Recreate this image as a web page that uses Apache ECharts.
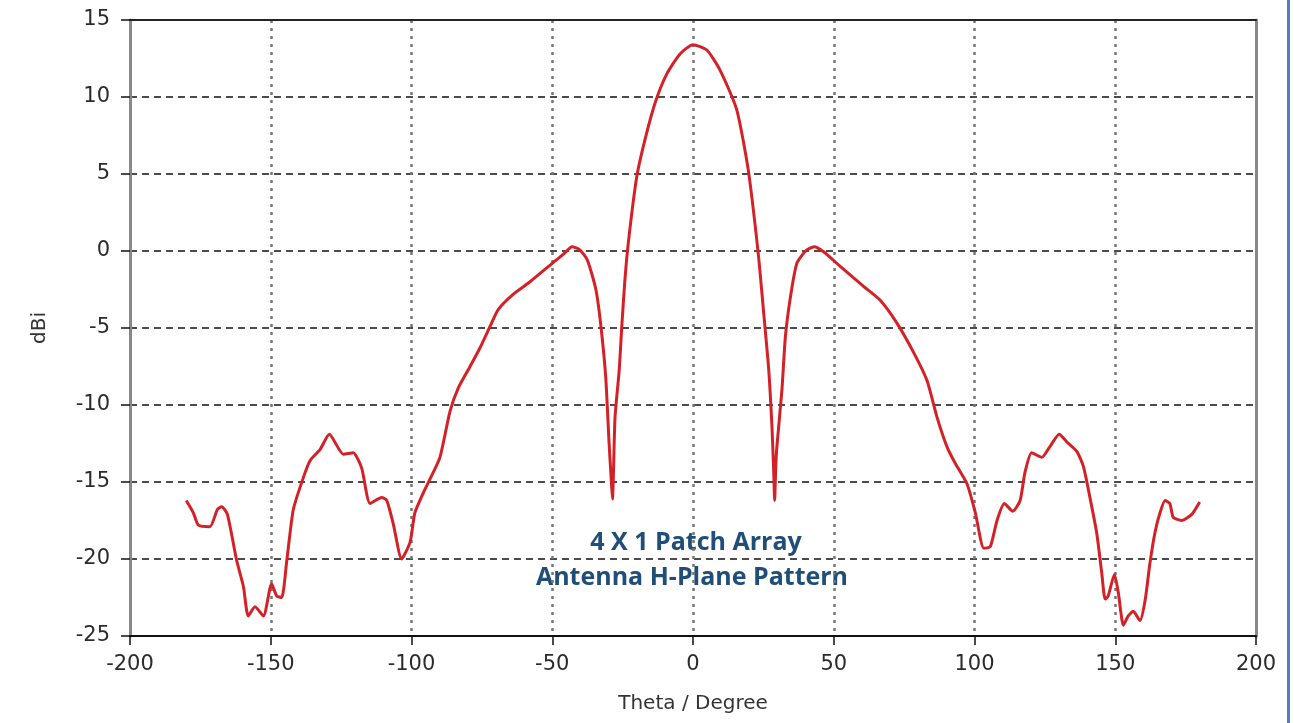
<!DOCTYPE html>
<html lang="en">
<head>
    <meta charset="UTF-8">
    <title>H-Plane Pattern</title>
    <script type="text/javascript" src="https://cdn.jsdelivr.net/npm/echarts@6/dist/echarts.min.js"></script>
    <style>
        html, body { margin: 0; padding: 0; background: #fff; }
        #chart { width: 1294px; height: 723px; }
    </style>
</head>
<body>
<div id="chart"></div>
<script type="text/javascript">
    // angle (deg) and gain (dBi)
    var theta = [
        -180, -177.5, -175.7, -171.6, -169, -167.4, -165.4, -162.1, -159.7, -158,
        -155.6, -152.6, -149.7, -147.9, -146.1, -144.3, -142, -138.4, -136, -132.5,
        -129.2, -124.2, -120.7, -117.7, -114.7, -110.6, -108.8, -106.5, -103.5, -100.5,
        -98.8, -95.8, -93.4, -89.9, -86.3, -83.4, -79.2, -75.7, -72.1, -69.2,
        -63.8, -57.9, -50, -46, -43, -40.1, -37.5, -34.5, -32.7, -31,
        -29.8, -29, -28.6, -28.2, -27.7, -26.2, -25.3, -24.2, -23, -20,
        -17.1, -13.5, -9.3, -4.6, 0, 4.9, 9.6, 15.5, 19.6, 23.2,
        25.1, 26.9, 28.1, 28.7, 29.0, 29.4, 29.8, 31.6, 32.8, 34.6,
        36.9, 40, 43, 46.4, 52.3, 60.6, 66.5, 72.5, 78.4, 83.1,
        86.7, 90.2, 93.2, 97.3, 100.3, 103.3, 105.6, 108, 110.6, 113.6,
        116.2, 117.9, 120.3, 123.9, 126.8, 130.1, 132.8, 136.3, 138.7, 141,
        143.4, 145.2, 146.4, 147.5, 149.7, 151.1, 152.9, 154.6, 156.4, 158.8,
        160.6, 162.3, 164.1, 165.9, 167.7, 169.4, 170.6, 173.6, 177.2, 180
    ];
    var gain = [
        -16.2, -17.0, -17.8, -17.9, -16.8, -16.6, -17.1, -20.1, -21.8, -23.7,
        -23.1, -23.7, -21.6, -22.4, -22.5, -20.1, -16.8, -14.7, -13.6, -12.9,
        -11.9, -13.2, -13.1, -14.1, -16.4, -16.0, -16.2, -17.7, -20.0, -18.9,
        -17.0, -15.7, -14.8, -13.4, -10.4, -8.9, -7.5, -6.3, -4.9, -3.8,
        -2.8, -2.0, -0.8, -0.2, 0.28, 0.06, -0.6, -2.5, -4.9, -8.2,
        -12.5, -15.0, -16.1, -14.0, -10.8, -7.7, -4.9, -1.9, 0.5, 4.8,
        7.2, 9.6, 11.5, 12.8, 13.4, 13.05, 11.75, 9.2, 5.3, -0.2,
        -4.0, -7.7, -11.6, -14.5, -16.2, -14.0, -12.7, -9.0, -5.6, -3.0,
        -0.8, 0.0, 0.28, -0.05, -1.0, -2.3, -3.2, -4.7, -6.6, -8.4,
        -10.8, -12.7, -13.8, -15.1, -17.0, -19.3, -19.2, -17.5, -16.4, -16.9,
        -16.2, -14.4, -13.1, -13.4, -12.7, -11.9, -12.4, -13.0, -14.0, -16.0,
        -18.3, -20.9, -22.6, -22.4, -21.0, -22.2, -24.3, -23.7, -23.4, -24.0,
        -22.7, -20.3, -18.3, -17.0, -16.2, -16.4, -17.3, -17.5, -17.1, -16.3
    ];
    var xTicks = [-200, 200, 50];
    var yTicks = [-25, 15, 5];
    var label1 = '4 X 1 Patch Array';
    var label2 = 'Antenna H-Plane Pattern';

    var points = [];
    for (var i = 0; i < theta.length; i++) {
        points.push([theta[i], gain[i]]);
    }

    var labelFont = { color: '#2b2b2b', fontFamily: 'DejaVu Sans', fontSize: 21 };

    var myChart = echarts.init(document.getElementById('chart'));
    var option = {
        backgroundColor: '#fff',
        animation: false,
        grid: { left: 130, right: 38, top: 20, bottom: 87 },
        xAxis: [{
            type: 'value',
            min: xTicks[0], max: xTicks[1], interval: xTicks[2],
            name: 'Theta / Degree',
            nameLocation: 'middle',
            nameGap: 58,
            nameTextStyle: { color: '#333', fontFamily: 'DejaVu Sans', fontSize: 20 },
            axisLine: { onZero: false, lineStyle: { color: '#111', width: 2 } },
            axisTick: { show: true, inside: false, length: 9, lineStyle: { color: '#111', width: 1.5 } },
            axisLabel: Object.assign({ margin: 18 }, labelFont),
            splitLine: { show: true, lineStyle: { color: '#777', width: 2.5, type: [3, 5] } }
        }, {
            type: 'value', position: 'top',
            min: xTicks[0], max: xTicks[1], interval: xTicks[2],
            axisLine: { show: true, onZero: false, lineStyle: { color: '#222', width: 2 } },
            axisTick: { show: false }, axisLabel: { show: false }, splitLine: { show: false }
        }],
        yAxis: [{
            type: 'value',
            min: yTicks[0], max: yTicks[1], interval: yTicks[2],
            name: 'dBi',
            nameLocation: 'middle',
            nameGap: 80,
            nameTextStyle: { color: '#333', fontFamily: 'DejaVu Sans', fontSize: 20 },
            axisLine: { show: true, onZero: false, lineStyle: { color: '#888', width: 3 } },
            axisTick: { show: true, inside: false, length: 9, lineStyle: { color: '#111', width: 1.5 } },
            axisLabel: Object.assign({ margin: 20 }, labelFont),
            splitLine: { show: true, lineStyle: { color: '#111', width: 1.5, type: [7, 5] } }
        }, {
            type: 'value', position: 'right',
            min: yTicks[0], max: yTicks[1], interval: yTicks[2],
            axisLine: { show: true, onZero: false, lineStyle: { color: '#888', width: 3 } },
            axisTick: { show: false }, axisLabel: { show: false }, splitLine: { show: false }
        }],
        series: [{
            type: 'line',
            data: points,
            showSymbol: false,
            smooth: 0.2,
            lineStyle: { color: '#d42027', width: 3 },
            z: 5
        }],
        graphic: [{
            type: 'text',
            x: 696,
            y: 543,
            style: {
                text: label1,
                fill: '#1f4e79',
                font: 'bold 25px "Open Sans"',
                textAlign: 'center',
                textVerticalAlign: 'middle'
            }
        }, {
            type: 'text',
            x: 692,
            y: 578,
            style: {
                text: label2,
                fill: '#1f4e79',
                font: 'bold 25px "Open Sans"',
                textAlign: 'center',
                textVerticalAlign: 'middle'
            }
        }, {
            type: 'rect',
            right: 4,
            top: 0,
            shape: { width: 3, height: 723 },
            style: { fill: '#4f7fc0' }
        }]
    };
    myChart.setOption(option);
</script>
</body>
</html>
